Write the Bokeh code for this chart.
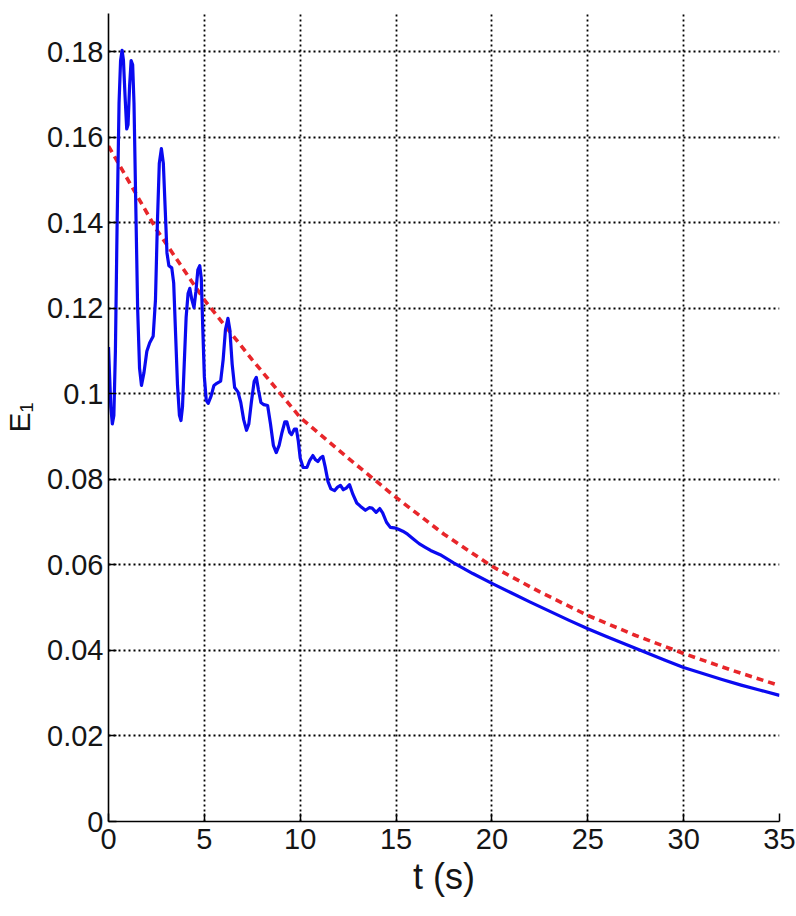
from bokeh.plotting import figure
from bokeh.models import Range1d, FixedTicker
from bokeh.embed import file_html
from bokeh.resources import INLINE

# Measured error E1 over time (s)
t_meas = [0.00, 0.06, 0.12, 0.20, 0.28, 0.36, 0.45, 0.55, 0.63, 0.71, 0.78, 0.86,
          0.95, 1.02, 1.10, 1.18, 1.26, 1.33, 1.42, 1.52, 1.62, 1.72, 1.85, 2.00,
          2.15, 2.33, 2.45, 2.55, 2.65, 2.76, 2.86, 2.96, 3.05, 3.15, 3.30, 3.40,
          3.50, 3.60, 3.70, 3.78, 3.86, 3.95, 4.05, 4.15, 4.24, 4.35, 4.46, 4.56,
          4.66, 4.76, 4.84, 4.92, 5.00, 5.10, 5.20, 5.35, 5.50, 5.65, 5.85, 5.98,
          6.10, 6.23, 6.33, 6.45, 6.58, 6.75, 6.90, 7.05, 7.20, 7.32, 7.45, 7.60,
          7.71, 7.82, 7.95, 8.10, 8.30, 8.45, 8.60, 8.75, 8.90, 9.05, 9.20, 9.30,
          9.45, 9.55, 9.70, 9.80, 9.90, 10.00, 10.15, 10.35, 10.50, 10.66, 10.80, 10.92,
          11.05, 11.18, 11.30, 11.45, 11.60, 11.79, 11.95, 12.10, 12.25, 12.40, 12.57, 12.75,
          12.95, 13.15, 13.40, 13.60, 13.75, 13.96, 14.15, 14.30, 14.50, 14.70, 14.90, 15.10,
          15.35, 15.60, 15.90, 16.20, 16.50, 16.80, 17.30, 18.0, 19.0, 20.0, 21.0, 22.0,
          23.0, 24.0, 25.0, 26.0, 27.0, 28.0, 29.0, 30.0, 31.0, 32.0, 33.0, 34.0,
          35.0]
e_meas = [0.1110, 0.1040, 0.0970, 0.0930, 0.0950, 0.1100, 0.1400, 0.1680, 0.1780, 0.1804, 0.1780, 0.1700,
          0.1620, 0.1630, 0.1720, 0.1780, 0.1770, 0.1680, 0.1450, 0.1200, 0.1060, 0.1020, 0.1050, 0.1100,
          0.1120, 0.1135, 0.1220, 0.1400, 0.1540, 0.1574, 0.1540, 0.1430, 0.1330, 0.1300, 0.1295, 0.1260,
          0.1140, 0.1020, 0.0950, 0.0938, 0.0970, 0.1070, 0.1180, 0.1235, 0.1247, 0.1220, 0.1202, 0.1240,
          0.1290, 0.1300, 0.1270, 0.1150, 0.1040, 0.0985, 0.0978, 0.0995, 0.1020, 0.1025, 0.1030, 0.1080,
          0.1150, 0.1177, 0.1150, 0.1070, 0.1015, 0.1005, 0.0980, 0.0940, 0.0915, 0.0930, 0.0980, 0.1030,
          0.1039, 0.1010, 0.0980, 0.0975, 0.0973, 0.0930, 0.0880, 0.0863, 0.0880, 0.0910, 0.0935, 0.0935,
          0.0910, 0.0905, 0.0918, 0.0918, 0.0890, 0.0850, 0.0828, 0.0828, 0.0845, 0.0856, 0.0846, 0.0842,
          0.0850, 0.0854, 0.0830, 0.0795, 0.0778, 0.0774, 0.0782, 0.0786, 0.0776, 0.0780, 0.0788, 0.0765,
          0.0745, 0.0737, 0.0728, 0.0734, 0.0733, 0.0723, 0.0732, 0.0722, 0.0700, 0.0688, 0.0687, 0.0684,
          0.0679, 0.0672, 0.0661, 0.0650, 0.0642, 0.0634, 0.0624, 0.0605, 0.0580, 0.0557, 0.0535, 0.0513,
          0.0492, 0.0471, 0.0451, 0.0432, 0.0414, 0.0396, 0.0378, 0.0360, 0.0346, 0.0332, 0.0319, 0.0307,
          0.0295]

# Upper bound curve
t_bound = [0.0, 2.5, 5.0, 7.5, 10.0, 12.5, 15.0, 17.5, 20.0, 22.5, 25.0, 27.5, 30.0, 32.5, 35.0]
e_bound = [0.1580, 0.1385, 0.1220, 0.1080, 0.0945, 0.0850, 0.0758, 0.0672, 0.0597, 0.0537,
           0.0482, 0.0435, 0.0393, 0.0354, 0.0318]

x_ticks = [0, 5, 10, 15, 20, 25, 30, 35]
y_ticks = [0, 0.02, 0.04, 0.06, 0.08, 0.1, 0.12, 0.14, 0.16, 0.18]
y_tick_labels = ["0", "0.02", "0.04", "0.06", "0.08", "0.1", "0.12", "0.14", "0.16", "0.18"]

FONT = "Liberation Sans"

p = figure(width=796, height=916, output_backend="svg", toolbar_location=None,
           x_range=Range1d(0, 35), y_range=Range1d(0, 0.189),
           min_border_left=107, min_border_right=17, min_border_top=13, min_border_bottom=95)
p.outline_line_color = None
p.background_fill_color = "white"
p.border_fill_color = "white"

p.line(t_bound, e_bound, line_color="#e8262a", line_width=3.6, line_dash="7 5")
p.line(t_meas, e_meas, line_color="#0a0af0", line_width=3.2, line_join="round")

for ax in (p.xaxis[0], p.yaxis[0]):
    ax.axis_line_color = "black"
    ax.axis_line_width = 1.6
    ax.major_tick_in = 8
    ax.major_tick_out = 0
    ax.major_tick_line_color = "black"
    ax.major_tick_line_width = 1.5
    ax.minor_tick_line_color = None
    ax.major_label_text_font = FONT
    ax.major_label_text_font_size = "29px"
    ax.major_label_text_color = "#151515"
    ax.axis_label_text_font = FONT
    ax.axis_label_text_font_style = "normal"
    ax.axis_label_text_color = "#151515"

p.xaxis[0].ticker = FixedTicker(ticks=x_ticks)
p.yaxis[0].ticker = FixedTicker(ticks=y_ticks)
p.yaxis[0].major_label_overrides = {v: s for v, s in zip(y_ticks, y_tick_labels)}
p.xaxis[0].major_label_standoff = 7
p.yaxis[0].major_label_standoff = 5

p.xaxis[0].axis_label = "t (s)"
p.xaxis[0].axis_label_text_font_size = "36px"
p.xaxis[0].axis_label_standoff = 4

p.yaxis[0].axis_label = "E\u2081"
p.yaxis[0].axis_label_text_font_size = "30px"
p.yaxis[0].axis_label_standoff = 8

for g in (p.xgrid[0], p.ygrid[0]):
    g.grid_line_color = "black"
    g.grid_line_width = 1.8
    g.grid_line_dash = "2 3"
    g.grid_line_alpha = 1.0
p.xgrid[0].ticker = FixedTicker(ticks=x_ticks[1:])
p.ygrid[0].ticker = FixedTicker(ticks=y_ticks[1:])

open("out.html", "w").write(file_html(p, INLINE))
